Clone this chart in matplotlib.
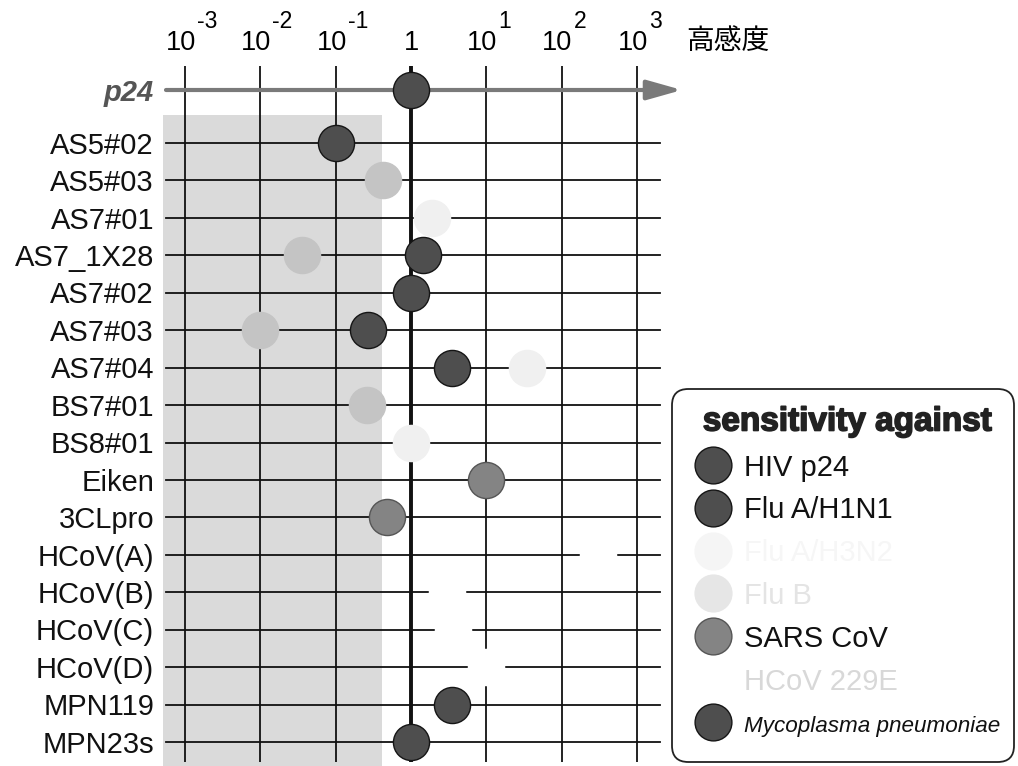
import matplotlib.pyplot as plt
from matplotlib.patches import Rectangle, FancyBboxPatch
from matplotlib import font_manager
import matplotlib.patheffects as pe

plt.rcParams['font.family'] = ['Liberation Sans', 'DejaVu Sans']

# rows of the chart (top to bottom), p24 is the reference row above them
rows = ['AS5#02', 'AS5#03', 'AS7#01', 'AS7_1X28', 'AS7#02', 'AS7#03', 'AS7#04',
        'BS7#01', 'BS8#01', 'Eiken', '3CLpro', 'HCoV(A)', 'HCoV(B)', 'HCoV(C)',
        'HCoV(D)', 'MPN119', 'MPN23s']
decades = [-3, -2, -1, 0, 1, 2, 3]
decade_labels = ['10', '10', '10', '1', '10', '10', '10']
decade_sups = ['-3', '-2', '-1', '', '1', '2', '3']

# log10 of relative sensitivity
hiv_p24 = {'p24': 0.0}
flu_h1n1 = {'AS5#02': -1.0, 'AS7_1X28': 0.16, 'AS7#02': 0.0, 'AS7#03': -0.57, 'AS7#04': 0.55}
flu_h3n2 = {'AS5#03': -0.37, 'AS7_1X28': -1.45, 'AS7#03': -2.0, 'BS7#01': -0.58}
flu_b = {'AS7#01': 0.28, 'AS7#04': 1.54, 'BS8#01': 0.0}
sars_cov = {'Eiken': 1.0, '3CLpro': -0.32}
hcov_229e = {'HCoV(A)': 2.48, 'HCoV(B)': 0.48, 'HCoV(C)': 0.56, 'HCoV(D)': 1.0}
mycoplasma = {'MPN119': 0.55, 'MPN23s': 0.0}

series = [hiv_p24, flu_h1n1, flu_h3n2, flu_b, sars_cov, hcov_229e, mycoplasma]
series_names = ['HIV p24', 'Flu A/H1N1', 'Flu A/H3N2', 'Flu B', 'SARS CoV',
                'HCoV 229E', 'Mycoplasma pneumoniae']
face = ['#4e4e4e', '#4e4e4e', '#c4c4c4', '#f0f0f0', '#848484', '#ffffff', '#4e4e4e']
edge = ['#151515', '#151515', '#c4c4c4', '#f0f0f0', '#555555', '#ffffff', '#151515']
leg_face = ['#4e4e4e', '#4e4e4e', '#f5f5f5', '#e6e6e6', '#848484', '#ffffff', '#4e4e4e']
leg_text = ['#111111', '#111111', '#f6f6f6', '#e4e4e4', '#111111', '#d8d8d8', '#111111']

# pixel -> data mapping of the layout
X0, DX, Y0, DY = 411, 75.3, 143, 37.44
W, H = 1018, 766
def xd(px): return (px - X0) / DX
def yd(py): return (py - Y0) / DY
def fx(px): return px / W
def fy(py): return 1 - py / H

row_y = {name: i for i, name in enumerate(rows)}
row_y['p24'] = yd(90)

fig = plt.figure(figsize=(W / 100, H / 100), dpi=100)
ax = fig.add_axes([0, 0, 1, 1])
ax.set_xlim(xd(0), xd(W))
ax.set_ylim(yd(H), yd(0))
ax.axis('off')

# shaded low-sensitivity zone
ax.add_patch(Rectangle((xd(163), yd(115)), xd(382) - xd(163), yd(H) - yd(115),
                       facecolor='#dadada', edgecolor='none', zorder=1))

for d in decades:
    ax.plot([d, d], [yd(66), yd(762)], color='#111111',
            lw=2.8 if d == 0 else 1.3, zorder=2, solid_capstyle='butt')
for name in rows:
    ax.plot([xd(166), xd(660)], [row_y[name]] * 2, color='#111111', lw=1.3, zorder=2)

ax.annotate('', xy=(xd(682), row_y['p24']), xytext=(xd(166), row_y['p24']),
            arrowprops=dict(arrowstyle='-|>,head_length=0.85,head_width=0.24',
                            mutation_scale=25, lw=3, color='#7a7a7a',
                            shrinkA=0, shrinkB=0), zorder=3)

for vals, fc, ec in zip(series, face, edge):
    xs = list(vals.values())
    ys = [row_y[k] for k in vals]
    ax.scatter(xs, ys, s=26 ** 2, c=fc, edgecolors=ec, linewidths=1.0, zorder=4)

# row labels
for name in rows:
    ax.text(xd(154), row_y[name] + 0.285, name, ha='right', va='baseline',
            fontsize=21, color='#111111')
ax.text(xd(154), row_y['p24'] + 0.285, 'p24', ha='right', va='baseline',
        fontsize=21, color='#555555', style='italic', fontweight='bold')

# top scale
for d, lab, sup in zip(decades, decade_labels, decade_sups):
    if sup:
        ax.text(d + 11 / DX, yd(50), lab, ha='right', va='baseline', fontsize=19.5)
        ax.text(d + 12 / DX, yd(28), sup, ha='left', va='baseline', fontsize=16.5)
    else:
        ax.text(d, yd(50), lab, ha='center', va='baseline', fontsize=19.5)
ax.text(xd(686), yd(49), '高感度', ha='left', va='baseline', fontsize=20,
        family=['Noto Sans CJK JP', 'DejaVu Sans'])

# legend box
ax.add_patch(FancyBboxPatch((fx(672), fy(762)), fx(1014) - fx(672), fy(389) - fy(762),
                            boxstyle='round,pad=0,rounding_size=0.016',
                            mutation_aspect=W / H, transform=ax.transAxes,
                            facecolor='white', edgecolor='#222222', lw=1.3, zorder=6))
ax.text(fx(848), fy(422), 'sensitivity against', transform=ax.transAxes,
        ha='center', va='center', fontsize=24, fontweight='bold', color='#222222',
        zorder=7, path_effects=[pe.withStroke(linewidth=1.2, foreground='#222222')])

try:
    font_manager.findfont(font_manager.FontProperties(family='Liberation Sans Narrow'),
                          fallback_to_default=False)
    myco_font = dict(family=['Liberation Sans Narrow', 'DejaVu Sans'], fontsize=19.5)
except ValueError:
    myco_font = dict(fontsize=16.2)

for k, (name, fc, tc) in enumerate(zip(series_names, leg_face, leg_text)):
    py = 465 + 42.8 * k
    ec = '#151515' if fc == '#4e4e4e' else ('#555555' if fc == '#848484' else fc)
    ax.scatter([fx(713)], [fy(py)], s=26.5 ** 2, c=fc, edgecolors=ec, linewidths=1.0,
               transform=ax.transAxes, zorder=7)
    if name.startswith('Mycoplasma'):
        ax.text(fx(744), fy(py + 10.5), name, transform=ax.transAxes, ha='left',
                va='baseline', color=tc, style='italic', zorder=7, **myco_font)
    else:
        ax.text(fx(744), fy(py + 10.5), name, transform=ax.transAxes, ha='left',
                va='baseline', fontsize=21, color=tc, zorder=7)

plt.savefig('out.png', dpi=100)
